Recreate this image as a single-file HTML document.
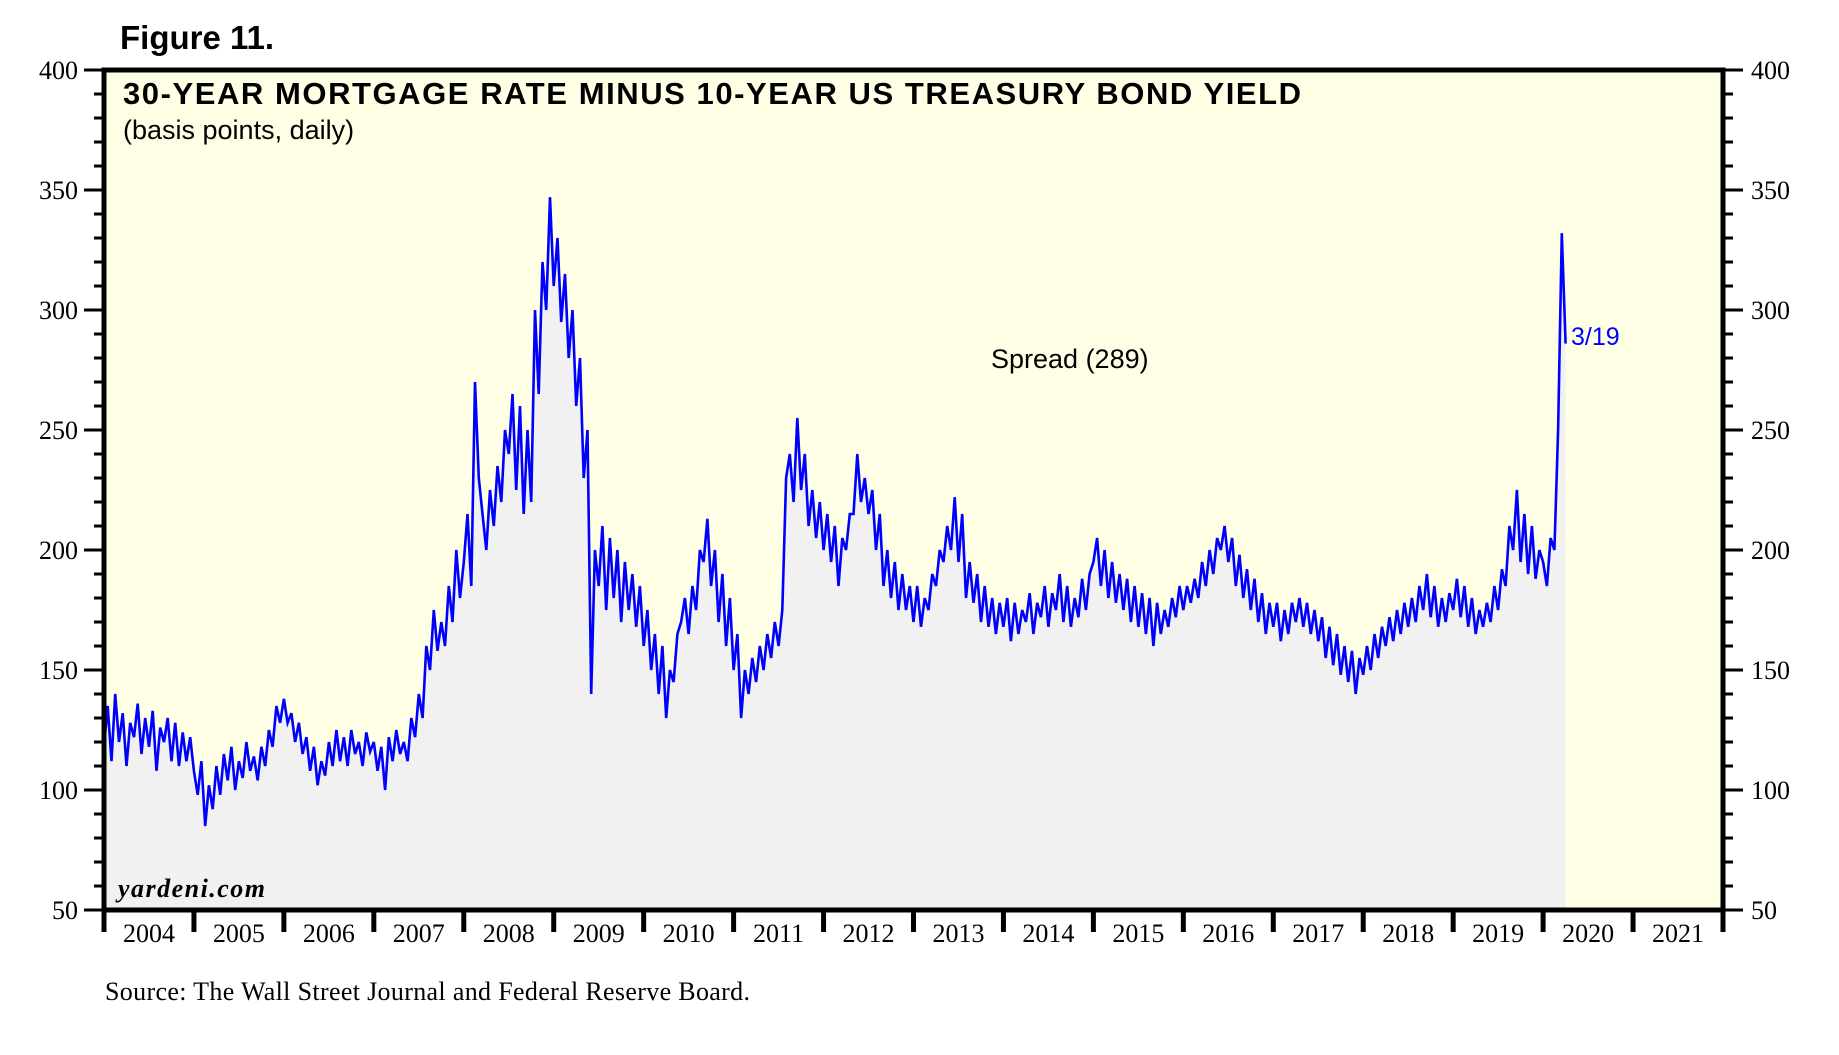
<!DOCTYPE html>
<html><head><meta charset="utf-8"><style>
html,body{margin:0;padding:0;background:#fff;}
svg{display:block;}
</style></head><body>
<svg id="chart" width="1839" height="1055" viewBox="0 0 1839 1055" xmlns="http://www.w3.org/2000/svg">
<text x="120" y="49" font-family="Liberation Sans, sans-serif" font-weight="bold" font-size="33">Figure 11.</text>
<rect x="104" y="70" width="1619" height="840" fill="#ffffe6"/>
<g id="area-layer"></g>
<g id="line-layer"></g>
<text x="123" y="104" font-family="Liberation Sans, sans-serif" font-weight="bold" font-size="31" textLength="1178">30-YEAR MORTGAGE RATE MINUS 10-YEAR US TREASURY BOND YIELD</text>
<text x="123" y="139" font-family="Liberation Sans, sans-serif" font-size="27">(basis points, daily)</text>
<text x="991" y="368" font-family="Liberation Sans, sans-serif" font-size="27">Spread (289)</text>
<text x="1571" y="345" font-family="Liberation Sans, sans-serif" font-size="25" fill="#0000ff">3/19</text>
<text x="118" y="897" font-family="Liberation Serif, serif" font-weight="bold" font-style="italic" font-size="26" textLength="147">yardeni.com</text>
<g id="axis-layer"></g>
<rect x="104" y="70" width="1619" height="840" fill="none" stroke="#000" stroke-width="5"/>
<text x="105" y="1000" font-family="Liberation Serif, serif" font-size="26" textLength="645">Source: The Wall Street Journal and Federal Reserve Board.</text>
</svg>
<script>
const startYear = 2004;
const stepYears = 1/24;
const spread2004 = [118,135,112,140,120,132,110,128,122,136,115,130,118,133,108,126,120,130,112,128,110,124,112,122];
const spread2005 = [108,98,112,85,102,92,110,98,115,104,118,100,112,105,120,108,114,104,118,110,125,118,135,128];
const spread2006 = [138,128,132,120,128,115,122,108,118,102,112,106,120,110,125,112,122,110,125,115,120,110,124,116];
const spread2007 = [120,108,118,100,122,112,125,115,120,112,130,122,140,130,160,150,175,158,170,160,185,170,200,180];
const spread2008 = [195,215,185,270,230,215,200,225,210,235,220,250,240,265,225,260,215,250,220,300,265,320,300,347];
const spread2009 = [310,330,295,315,280,300,260,280,230,250,140,200,185,210,175,205,180,200,170,195,175,190,168,185];
const spread2010 = [160,175,150,165,140,160,130,150,145,165,170,180,165,185,175,200,195,213,185,200,170,190,160,180];
const spread2011 = [150,165,130,150,140,155,145,160,150,165,155,170,160,175,230,240,220,255,225,240,210,225,205,220];
const spread2012 = [200,215,195,210,185,205,200,215,215,240,220,230,215,225,200,215,185,200,180,195,175,190,175,185];
const spread2013 = [170,185,168,180,175,190,185,200,195,210,200,222,195,215,180,195,178,190,170,185,168,180,165,178];
const spread2014 = [168,180,162,178,165,175,170,182,165,178,172,185,168,182,175,190,170,185,168,180,172,188,175,190];
const spread2015 = [195,205,185,200,180,195,178,190,175,188,170,185,168,182,165,180,160,178,165,175,168,180,172,185];
const spread2016 = [175,185,178,188,180,195,185,200,190,205,200,210,195,205,185,198,180,192,175,188,170,182,165,178];
const spread2017 = [168,178,162,175,165,178,170,180,168,178,165,175,162,172,155,168,152,165,148,160,145,158,140,155];
const spread2018 = [148,160,150,165,155,168,160,172,162,175,165,178,168,180,170,185,175,190,172,185,168,180,170,182];
const spread2019 = [175,188,172,185,168,180,165,175,168,178,170,185,175,192,185,210,200,225,195,215,190,210,188,200];
const spread2020 = [195,185,205,200,250,332,286];
const yTicks = [50,100,150,200,250,300,350,400];
const yearLabels = ["2004","2005","2006","2007","2008","2009","2010","2011","2012","2013","2014","2015","2016","2017","2018","2019","2020","2021"];

const NS = "http://www.w3.org/2000/svg";
const X0 = 104, X1 = 1723, Y0 = 910, Y1 = 70;
const T0 = 2004, T1 = 2022, V0 = 50, V1 = 400;
function xScale(t){ return X0 + (t - T0) / (T1 - T0) * (X1 - X0); }
function yScale(v){ return Y0 - (v - V0) / (V1 - V0) * (Y0 - Y1); }

const values = [].concat(spread2004,spread2005,spread2006,spread2007,spread2008,spread2009,spread2010,spread2011,spread2012,spread2013,spread2014,spread2015,spread2016,spread2017,spread2018,spread2019,spread2020);
const pts = values.map((v,i)=>[xScale(startYear + i*stepYears), yScale(v)]);
const d = pts.map((p,i)=>(i?"L":"M")+p[0].toFixed(1)+","+p[1].toFixed(1)).join("");

const area = document.createElementNS(NS,"path");


area.setAttribute("d", d + "L" + pts[pts.length-1][0].toFixed(1) + "," + Y0 + "L" + pts[0][0].toFixed(1) + "," + Y0 + "Z");
area.setAttribute("fill", "#f1f1f1");
document.getElementById("area-layer").appendChild(area);

const line = document.createElementNS(NS,"path");


line.setAttribute("d", d);
line.setAttribute("fill", "none");
line.setAttribute("stroke", "#0000ff");
line.setAttribute("stroke-width", "2.6");
line.setAttribute("stroke-linejoin", "miter");
document.getElementById("line-layer").appendChild(line);

const ax = document.getElementById("axis-layer");
function mk(tag, attrs){ const e=document.createElementNS(NS,tag); for(const k in attrs) e.setAttribute(k, attrs[k]); return e; }
for (let v = V0; v <= V1; v += 10) {
  const y = yScale(v);
  const major = (v % 50 === 0);
  const lt = mk("line", {x1: major ? 84 : 94, x2: 104, y1: y, y2: y, stroke: "#000", "stroke-width": 3});
  
  
  ax.appendChild(lt);
  const rt = mk("line", {x1: 1723, x2: major ? 1743 : 1733, y1: y, y2: y, stroke: "#000", "stroke-width": 3});
  
  
  ax.appendChild(rt);
}
yTicks.forEach(v=>{
  const y = yScale(v);
  const l = mk("text", {x: 78, y: y + 9, "text-anchor": "end", "font-family": "Liberation Serif, serif", "font-size": 26});
  
  
  l.textContent = v; ax.appendChild(l);
  const r = mk("text", {x: 1751, y: y + 9, "font-family": "Liberation Serif, serif", "font-size": 26});
  
  
  r.textContent = v; ax.appendChild(r);
});
for (let i = 0; i <= yearLabels.length; i++) {
  const x = xScale(T0 + i);
  const t = mk("line", {x1: x, x2: x, y1: 910, y2: 932, stroke: "#000", "stroke-width": 5});
  
  
  ax.appendChild(t);
}
yearLabels.forEach((lab,i)=>{
  const x = xScale(T0 + i + 0.5);
  const t = mk("text", {x: x, y: 942, "text-anchor": "middle", "font-family": "Liberation Serif, serif", "font-size": 26});
  
  
  t.textContent = lab; ax.appendChild(t);
});
</script>
</body></html>
